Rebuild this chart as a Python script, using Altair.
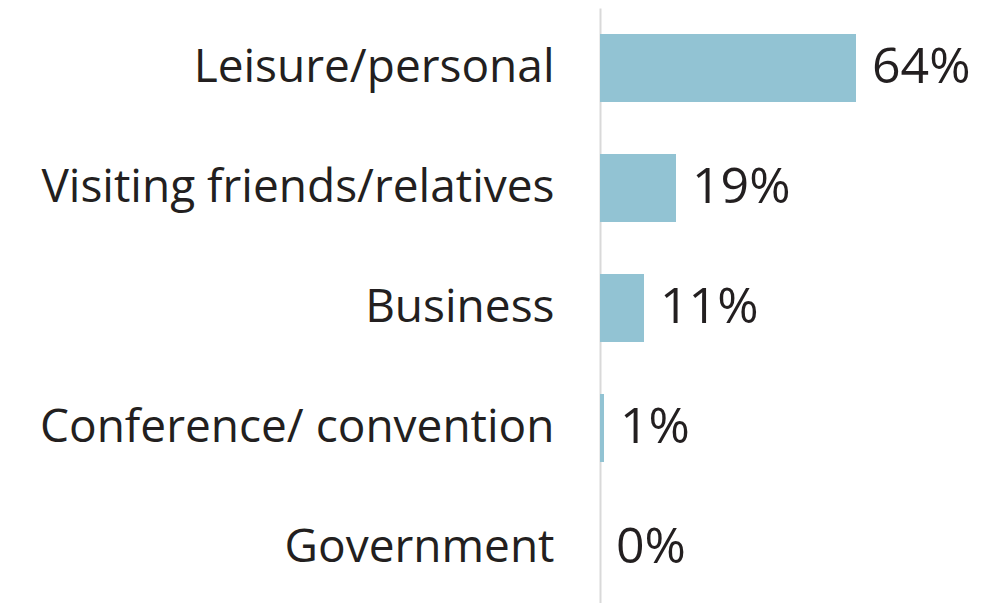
import altair as alt
import pandas as pd

categories = ["Leisure/personal", "Visiting friends/relatives", "Business", "Conference/ convention", "Government"]
values = [64, 19, 11, 1, 0]
labels = ["64%", "19%", "11%", "1%", "0%"]

df = pd.DataFrame({"cat": categories, "val": values, "lab": labels})

FONT = "Open Sans"
TXT = "#231F20"

y = alt.Y("cat:N", sort=categories, title=None,
          scale=alt.Scale(paddingInner=0.433, paddingOuter=0.2165),
          axis=alt.Axis(domainColor="#D9D9D9", domainWidth=2, ticks=False,
                        labelFont=FONT, labelFontSize=46, labelColor=TXT,
                        labelPadding=46, minExtent=592, maxExtent=592,
                        labelLimit=600))
x = alt.X("val:Q", scale=alt.Scale(domain=[0, 95]), axis=None)

bars = alt.Chart(df).mark_bar(color="#92C3D3").encode(x=x, y=y)
text = alt.Chart(df).mark_text(align="left", baseline="middle", dx=16,
                               font=FONT, fontSize=50, color=TXT).encode(
    x=x, y=y, text="lab:N")

chart = (bars + text).properties(
    width=380, height=alt.Step(120), padding=0
).configure_view(stroke=None).configure_axis(grid=False)

chart.save("out.html", embed_options={"renderer": "svg", "actions": False})
